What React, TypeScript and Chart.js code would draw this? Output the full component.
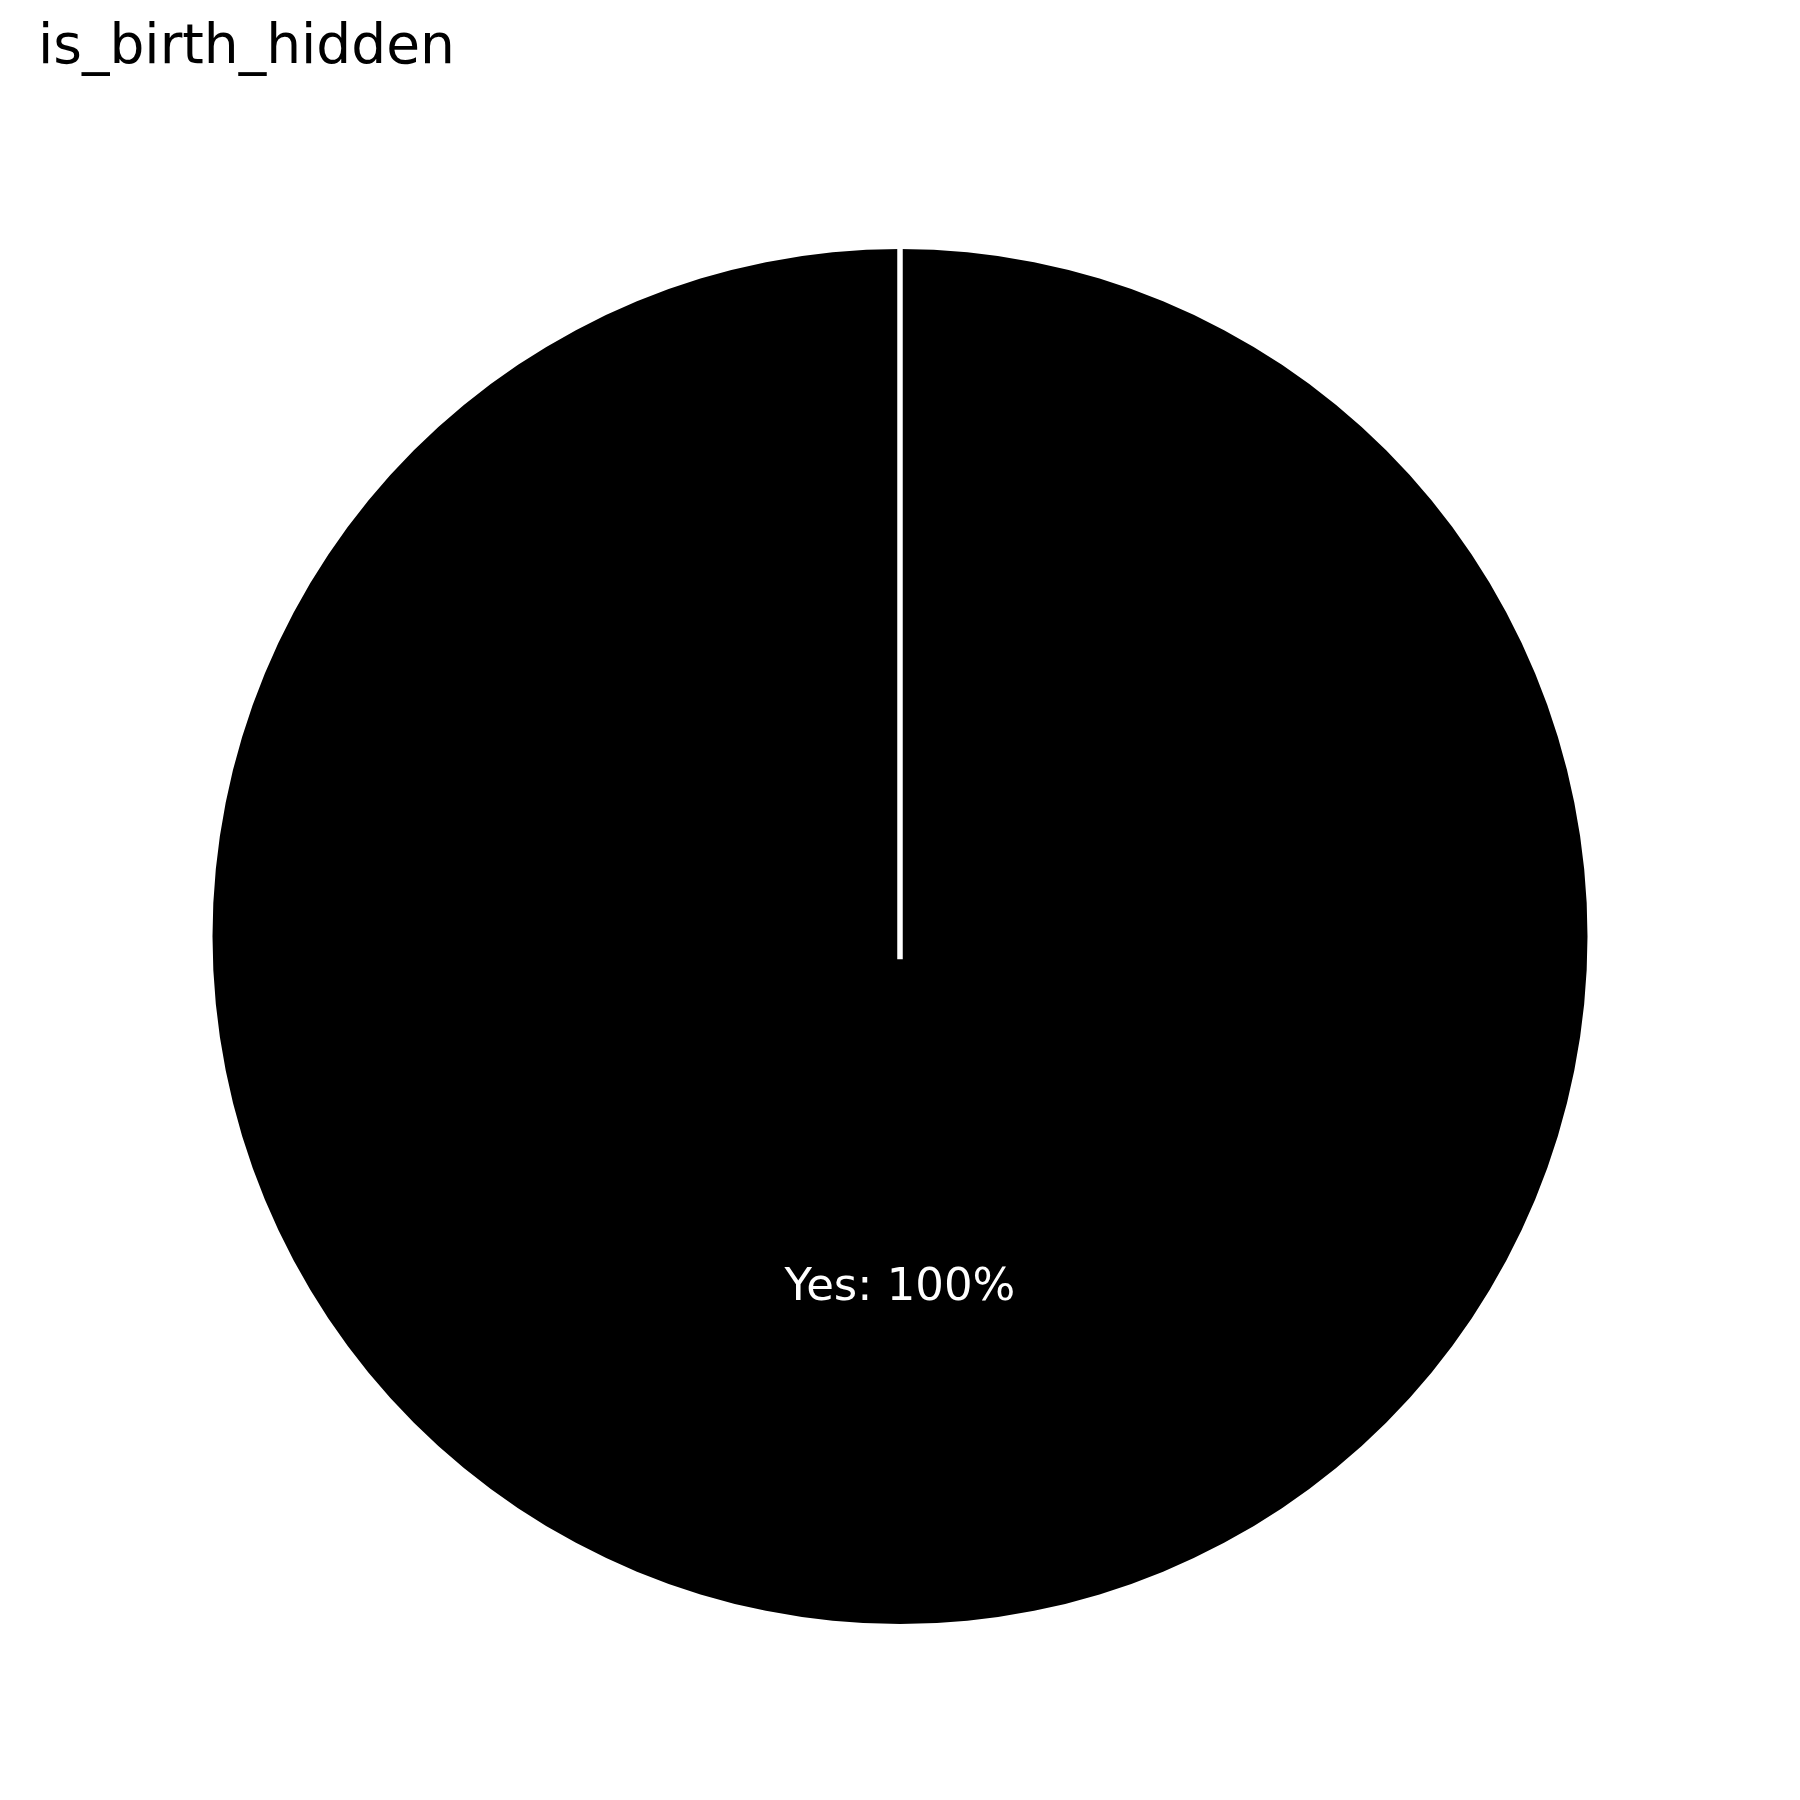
import React, { useEffect, useRef } from "react";
import { Chart, registerables } from "chart.js";

Chart.register(...registerables);

const TITLE = "is_birth_hidden";
const categories = ["Yes"];
const values = [100];
const colors = ["#000000"];

const FONT = "'DejaVu Sans', sans-serif";

const seamAndLabels = {
  id: "seamAndLabels",
  afterDatasetsDraw(chart: any) {
    const meta = chart.getDatasetMeta(0);
    const ctx = chart.ctx;
    const total = values.reduce((a, b) => a + b, 0);
    meta.data.forEach((arc: any, i: number) => {
      const { x, y, outerRadius, startAngle, endAngle } = arc.getProps(
        ["x", "y", "outerRadius", "startAngle", "endAngle"],
        true
      );
      // white wedge edge from the centre to the arc start
      ctx.save();
      ctx.strokeStyle = "#ffffff";
      ctx.lineWidth = 5.5;
      ctx.lineCap = "butt";
      const ext = outerRadius * 0.033;
      ctx.beginPath();
      ctx.moveTo(x - Math.cos(startAngle) * ext, y - Math.sin(startAngle) * ext);
      ctx.lineTo(x + Math.cos(startAngle) * (outerRadius + 1), y + Math.sin(startAngle) * (outerRadius + 1));
      ctx.stroke();
      // label
      const mid = (startAngle + endAngle) / 2;
      const d = outerRadius * 0.528;
      const pct = Math.round((values[i] / total) * 100);
      ctx.fillStyle = "#ffffff";
      ctx.font = `45px ${FONT}`;
      ctx.textAlign = "center";
      ctx.textBaseline = "alphabetic";
      ctx.fillText(`${categories[i]}: ${pct}%`, x + Math.cos(mid) * d, y + Math.sin(mid) * d);
      ctx.restore();
    });
  },
};

export default function App() {
  const ref = useRef<HTMLCanvasElement | null>(null);
  useEffect(() => {
    if (!ref.current) return;
    const chart = new Chart(ref.current, {
      type: "pie",
      data: {
        labels: categories,
        datasets: [
          {
            data: values,
            backgroundColor: colors,
            borderWidth: 0,
            hoverOffset: 0,
          },
        ],
      },
      options: {
        responsive: false,
        animation: false,
        devicePixelRatio: 1,
        rotation: 0,
        layout: { padding: { top: 0, bottom: 176, left: 38, right: 38 } },
        plugins: {
          legend: { display: false },
          tooltip: { enabled: false },
          title: {
            display: true,
            text: TITLE,
            align: "start",
            color: "#000000",
            font: { family: FONT, size: 55, weight: "normal", lineHeight: 1.2 },
            padding: { top: 16, bottom: 167 },
          },
        },
      },
      plugins: [seamAndLabels],
    });
    return () => chart.destroy();
  }, []);
  return (
    <div style={{ position: "fixed", left: 0, top: 0, width: 1800, height: 1800, background: "#ffffff" }}>
      <canvas ref={ref} width={1800} height={1800} style={{ display: "block", width: 1800, height: 1800 }} />
    </div>
  );
}
